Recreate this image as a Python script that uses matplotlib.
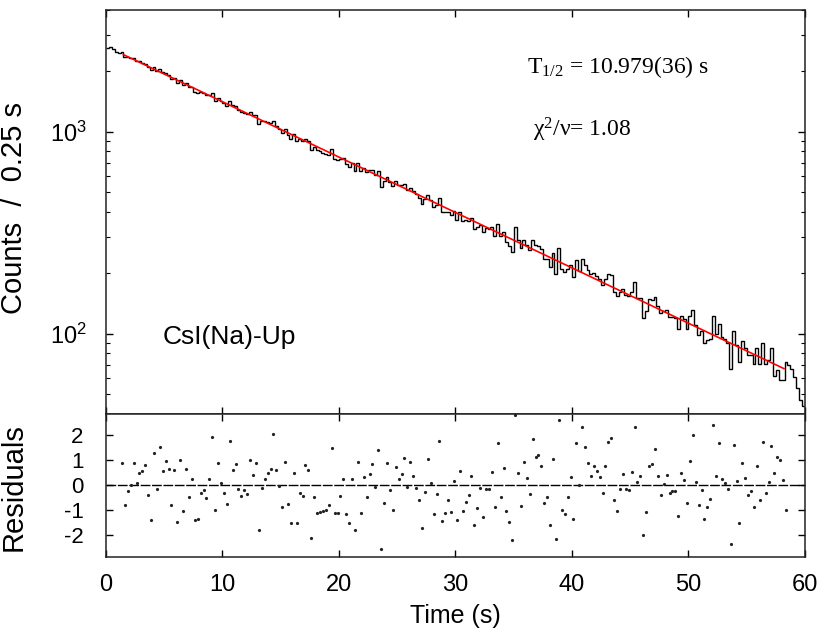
import numpy as np
import matplotlib
matplotlib.use('Agg')
import matplotlib.pyplot as plt
from matplotlib.ticker import FixedLocator, LogLocator, NullFormatter

# counts per 0.25 s bin, 0 - 60 s
bin_width = 0.25
counts = [2600, 2620, 2560, 2470, 2440, 2469, 2348, 2339,
          2312, 2318, 2244, 2229, 2198, 2174, 2085, 2008,
          2096, 1999, 2044, 1969, 1955, 1911, 1821, 1851,
          1735, 1810, 1698, 1741, 1668, 1670, 1579, 1553,
          1571, 1550, 1514, 1519, 1560, 1425, 1474, 1420,
          1383, 1346, 1418, 1353, 1341, 1283, 1254, 1242,
          1218, 1246, 1206, 1204, 1094, 1134, 1127, 1119,
          1106, 1135, 1070, 1033, 990, 1031, 963, 924,
          971, 895, 916, 898, 922, 902, 808, 842,
          810, 798, 787, 775, 769, 820, 735, 723,
          731, 737, 688, 668, 703, 639, 700, 636,
          663, 633, 645, 645, 613, 639, 533, 569,
          599, 563, 536, 568, 547, 544, 550, 515,
          529, 509, 491, 472, 440, 464, 485, 457,
          424, 434, 471, 398, 398, 402, 386, 404,
          367, 400, 363, 364, 363, 372, 329, 336,
          346, 319, 335, 330, 336, 306, 347, 303,
          319, 284, 272, 255, 336, 292, 265, 290,
          275, 260, 292, 276, 273, 262, 235, 235,
          214, 251, 198, 266, 209, 203, 210, 219,
          191, 231, 204, 234, 219, 207, 197, 199,
          193, 187, 175, 187, 197, 196, 161, 153,
          161, 166, 156, 153, 160, 180, 150, 150,
          120, 129, 148, 147, 152, 137, 126, 129,
          131, 121, 121, 119, 106, 122, 118, 106,
          122, 131, 110, 99, 103, 90, 93, 94,
          122, 100, 112, 96, 94, 90, 67, 103,
          88, 72, 92, 85, 78, 78, 71, 85,
          71, 90, 71, 74, 85, 62, 66, 59,
          59, 72, 70, 67, 61, 54, 47, 44]

# fitted decay (straight line on log scale), end points
fit_time = [1.5, 58.2]
fit_counts = [2405, 67.1]

# normalised residuals, one per bin starting at bin 5
first_res_bin = 5
residuals = [0.91, -0.77, -0.21, 0.01, 0.88, 0.08, 0.51, 0.57, 0.81, -0.39,
             -1.39, 1.28, -0.16, 1.55, 0.56, 0.96, 0.65, -0.77, 0.60, -1.45,
             1.01, -1.01, 0.67, -0.45, 0.24, -1.37, -1.36, -0.31, -0.20, -0.52,
             0.24, 1.92, -0.99, 0.91, 0.08, -0.32, -0.73, 1.79, 0.60, 0.85,
             -0.16, -0.41, -0.20, -0.35, 1.01, 0.41, 0.89, -1.79, -0.09, 0.25,
             0.51, 0.67, 2.07, 0.61, -0.04, -0.88, 0.92, -0.76, -1.52, 0.51,
             -1.49, -0.32, -0.43, 0.83, 0.63, -2.09, -0.48, -1.11, -1.08, -1.01,
             -1.00, -0.79, 1.51, -1.12, -1.12, -0.43, 0.24, -1.15, -1.52, 0.24,
             -1.80, 0.95, -1.12, 0.35, -0.45, 0.44, 0.84, -0.05, 1.41, -2.55,
             -0.71, 0.91, -0.20, -0.97, 0.75, 0.25, 0.47, 1.09, -0.08, 0.92,
             0.39, -0.09, -0.60, -1.72, -0.28, 1.04, 0.08, -1.13, -0.35, 1.77,
             -1.44, -1.11, -0.57, -1.07, 0.16, -1.39, 0.56, -1.01, -0.67, -0.40,
             0.36, -1.57, -0.92, -0.11, -1.27, -0.13, -0.13, 0.53, -0.85, 1.69,
             -0.47, 0.71, -1.04, -1.48, -2.20, 2.80, 0.51, -0.83, 0.92, 0.28,
             -0.35, 1.87, 1.13, 1.21, 0.77, -0.71, -0.45, -1.60, 1.07, -2.15,
             2.60, -0.97, -1.15, -0.45, 0.35, -1.35, 1.68, 0.01, 2.35, 1.53,
             0.91, 0.39, 0.79, 0.56, 0.35, -0.32, 0.79, 1.75, 1.89, -0.60,
             -1.01, -0.16, 0.44, -0.15, -0.20, 0.52, 2.35, 0.13, 0.36, -2.00,
             -1.05, 0.77, 0.85, 1.44, 0.39, -0.40, 0.05, 0.40, -0.31, -0.21,
             -0.21, -1.24, 0.49, 0.21, -0.69, 0.99, 2.03, 0.15, -0.77, -0.19,
             -1.35, -0.87, -0.56, 2.40, 0.36, 1.68, 0.27, 0.11, -0.15, -2.33,
             1.63, 0.16, -1.49, 0.91, 0.29, -0.40, -0.21, -0.88, 0.79, -0.60,
             1.72, -0.32, 0.13, 1.57, 0.49, 1.13, 1.00, 0.20, -0.97]

half_life_text = r'$\mathregular{T_{1/2}}$ = 10.979(36) s'
chi2_text = r'$\mathregular{χ^2/ν}$= 1.08'
detector = 'CsI(Na)-Up'

narrow = ['Liberation Sans Narrow', 'Liberation Sans', 'DejaVu Sans']
sans = ['Liberation Sans', 'DejaVu Sans']
serif = ['Liberation Serif', 'DejaVu Serif']
plt.rcParams['font.family'] = narrow
plt.rcParams['axes.unicode_minus'] = False
plt.rcParams['axes.linewidth'] = 1.1
plt.rcParams['axes.edgecolor'] = '#222222'

edges = np.arange(len(counts) + 1) * bin_width
res_time = (np.arange(len(residuals)) + first_res_bin + 0.5) * bin_width

fig = plt.figure(figsize=(8.24, 6.43), dpi=100)
ax = fig.add_axes([0.1286, 0.3561, 0.8483, 0.6283])
ax2 = fig.add_axes([0.1286, 0.1337, 0.8483, 0.2224], sharex=ax)

# spectrum + fit
ax.stairs(counts, edges, baseline=None, color='black', lw=1.0)
ax.plot(fit_time, fit_counts, color='red', lw=1.2)
ax.set_yscale('log')
ax.set_xlim(0, 60)
ax.set_ylim(40, 4000)
ax.yaxis.set_major_locator(FixedLocator([100, 1000]))
ax.set_yticklabels([r'$\mathregular{10^2}$', r'$\mathregular{10^3}$'])
ax.yaxis.set_minor_locator(LogLocator(base=10, subs=np.arange(2, 10)))
ax.yaxis.set_minor_formatter(NullFormatter())
ax.set_xticks(np.arange(0, 61, 10))
ax.tick_params(which='both', direction='in', top=True, right=True, labelbottom=False,
               labelsize=17, pad=14)
ax.tick_params(which='major', length=5, width=1)
ax.tick_params(which='minor', length=3, width=0.8)
ax.set_ylabel('Counts  /  0.25 s', fontsize=21, family=sans)
ax.yaxis.set_label_coords(-0.112, 0.51)

ax.text(0.602, 0.844, half_life_text, transform=ax.transAxes, fontsize=17,
        family=serif, va='baseline')
ax.text(0.611, 0.686, chi2_text, transform=ax.transAxes, fontsize=17,
        family=serif, va='baseline')
ax.text(0.0815, 0.173, detector, transform=ax.transAxes, fontsize=19,
        family=sans, va='baseline')

# residuals
ax2.axhline(0, color='black', lw=1.0, linestyle=(0, (7, 1.2)))
ax2.plot(res_time, residuals, 'o', color='#222222', markersize=2.3, markeredgewidth=0)
ax2.set_ylim(-2.87, 2.85)
ax2.set_yticks([-2, -1, 0, 1, 2])
ax2.tick_params(which='both', direction='in', top=True, right=True, labelsize=17,
                length=5, width=1)
ax2.tick_params(axis='y', pad=16, labelsize=16)
ax2.tick_params(axis='x', pad=12)
ax2.set_ylabel('Residuals', fontsize=21, family=sans)
ax2.yaxis.set_label_coords(-0.112, 0.49)
ax2.set_xlabel('Time (s)', fontsize=18, family=sans, labelpad=6)

fig.savefig('out.png', dpi=100)
